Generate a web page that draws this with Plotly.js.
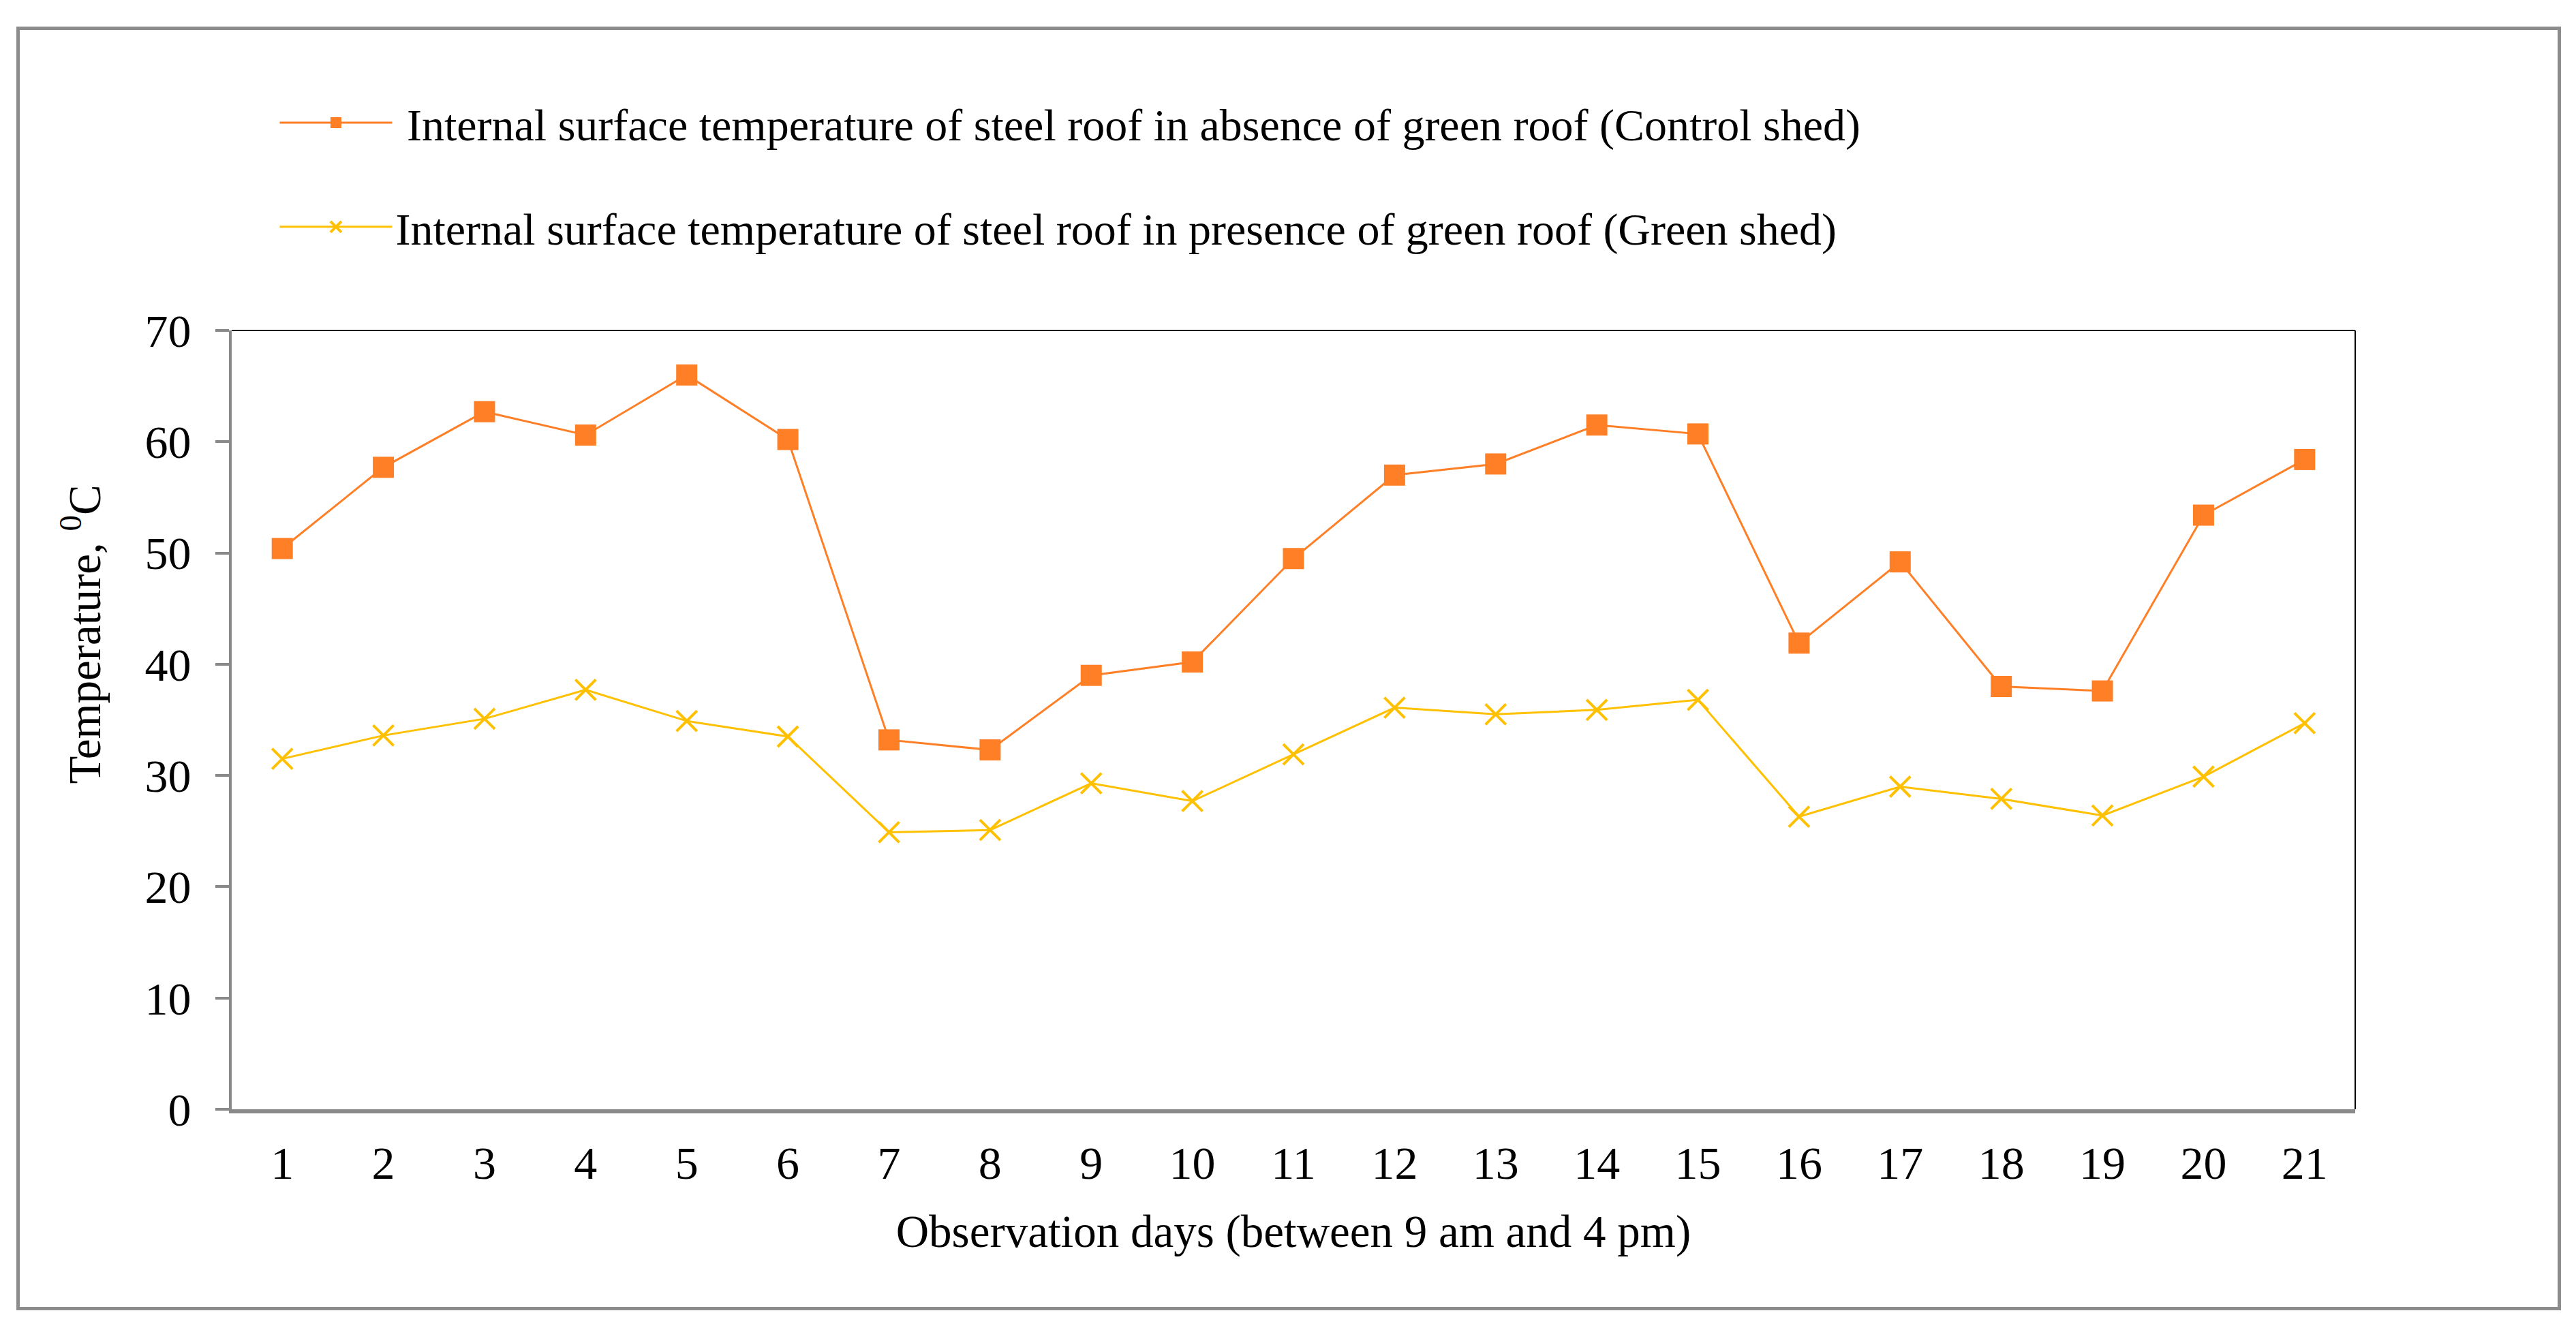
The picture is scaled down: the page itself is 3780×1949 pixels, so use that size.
<!DOCTYPE html>
<html>
<head>
<meta charset="utf-8">
<script src="https://cdn.plot.ly/plotly-3.0.1.min.js"></script>
<style>
  body { margin: 0; background: #fff; }
  #myDiv { position: absolute; left: 0; top: 0; width: 3780px; height: 1949px; }
  #frame { position: absolute; left: 24px; top: 39px; width: 3734px; height: 1884px;
           box-sizing: border-box; border: 5px solid #8c8c8c; pointer-events: none; }
</style>
</head>
<body>
<div id="myDiv"></div>
<div id="frame"></div>
<script>
// dias de observacao (eixo x)
var dias = [1, 2, 3, 4, 5, 6, 7, 8, 9, 10, 11, 12, 13, 14, 15, 16, 17, 18, 19, 20, 21];

// galpao controle (sem telhado verde)
var controle = [50.4, 57.7, 62.7, 60.6, 66.0, 60.2, 33.2, 32.3, 39.0, 40.2, 49.5,
                57.0, 58.0, 61.5, 60.7, 41.9, 49.2, 38.0, 37.6, 53.4, 58.4];

// galpao verde (com telhado verde)
var verde = [31.5, 33.6, 35.1, 37.7, 34.9, 33.5, 24.9, 25.1, 29.3, 27.7, 31.9,
             36.1, 35.5, 35.9, 36.8, 26.3, 29.0, 27.9, 26.4, 29.9, 34.7];

var nomeControle = 'Internal surface temperature of steel roof in absence of green roof (Control shed)';
var nomeVerde = 'Internal surface temperature of steel roof in presence of green roof (Green shed)';
var tituloX = 'Observation days (between 9 am and 4 pm)';
var tituloY = 'Temperature, <sup>0</sup>C';

var fonte = '"Liberation Serif", "Times New Roman", serif';

function lineChart() {
  var trace1 = {
    x: dias,
    y: controle,
    name: ' ' + nomeControle,
    legendgroup: 'a',
    type: 'scatter',
    mode: 'lines+markers',
    line: { color: '#FF7F27', width: 3 },
    marker: { symbol: 'square', size: 31, color: '#FF7F27' }
  };

  var trace2 = {
    x: dias,
    y: verde,
    name: nomeVerde,
    legendgroup: 'b',
    type: 'scatter',
    mode: 'lines+markers',
    line: { color: '#FFC000', width: 3 },
    marker: { symbol: 'x-thin', size: 30, color: '#FFC000', line: { color: '#FFC000', width: 4 } }
  };

  var layout = {
    width: 3780,
    height: 1949,
    margin: { l: 340, r: 324, t: 485, b: 321 },
    paper_bgcolor: '#fff',
    plot_bgcolor: '#fff',
    font: { family: fonte, size: 68, color: '#000' },
    showlegend: true,
    legend: {
      x: 0.021,
      y: 1.31,
      xanchor: 'left',
      yanchor: 'top',
      traceorder: 'grouped',
      tracegroupgap: 64,
      itemwidth: 165,
      font: { family: fonte, size: 66, color: '#000' },
      bgcolor: 'rgba(0,0,0,0)'
    },
    xaxis: {
      range: [0.5, 21.5],
      tickmode: 'array',
      tickvals: dias,
      ticktext: dias.map(String),
      ticks: '',
      ticklabelstandoff: 14,
      showgrid: false,
      zeroline: false,
      showline: true,
      linecolor: '#898989',
      linewidth: 6,
      tickfont: { family: fonte, size: 68 },
      title: { text: tituloX, font: { family: fonte, size: 67 }, standoff: 42 }
    },
    yaxis: {
      range: [0, 70],
      dtick: 10,
      ticks: 'outside',
      ticklen: 20,
      tickwidth: 4,
      tickcolor: '#898989',
      ticklabelstandoff: 22,
      showgrid: false,
      zeroline: false,
      showline: true,
      linecolor: '#898989',
      linewidth: 4,
      tickfont: { family: fonte, size: 68 }
    },
    // titulo do eixo y como anotacao, um pouco acima do centro como no original
    annotations: [{
      text: tituloY,
      xref: 'paper', yref: 'paper',
      x: -0.071, y: 0.61,
      xanchor: 'center', yanchor: 'middle',
      textangle: -90,
      showarrow: false,
      font: { family: fonte, size: 67, color: '#000' }
    }],
    // bordas finas de cima e da direita da area do grafico
    shapes: [
      { type: 'line', xref: 'paper', yref: 'paper', x0: 0, x1: 1, y0: 1, y1: 1, line: { color: '#000', width: 2 } },
      { type: 'line', xref: 'paper', yref: 'paper', x0: 1, x1: 1, y0: 0, y1: 1, line: { color: '#000', width: 2 } }
    ]
  };

  var data = [trace1, trace2];

  Plotly.newPlot('myDiv', data, layout, { staticPlot: true });
}

lineChart();
</script>
</body>
</html>
